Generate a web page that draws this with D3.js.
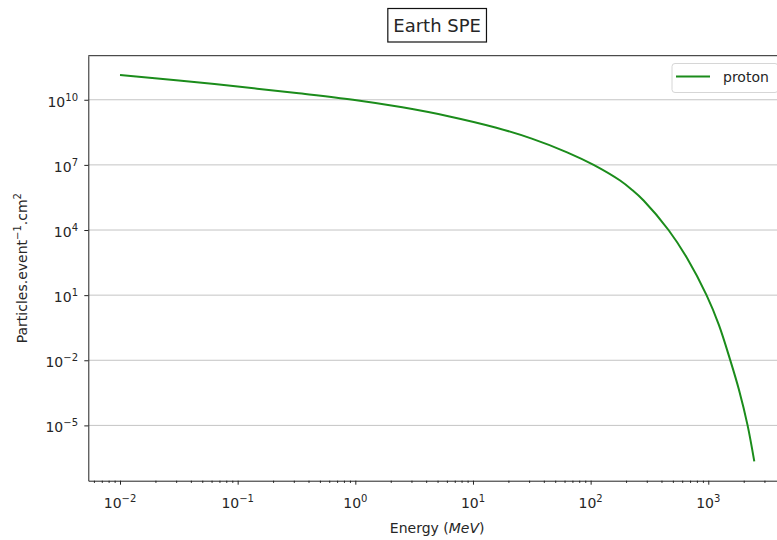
<!DOCTYPE html>
<html>
<head>
<meta charset="utf-8">
<script src="https://cdn.jsdelivr.net/npm/d3@7"></script>
<style>
    body { margin: 0; background: #fff; }
    text { font-family: "DejaVu Sans", sans-serif; fill: #262626; }
</style>
</head>
<body>
<div id="chart"></div>
<script>
// values (energy in MeV, fluence per event)
var energy = [0.01, 0.0316, 0.1, 0.316, 0.955, 2.51, 6.31, 15.8, 31.6, 63.1,
              106, 178, 224, 282, 459, 661, 966, 1230, 1538, 1820, 2158, 2460];
var flux = [1.38e11, 7.76e10, 4.07e10, 2.04e10, 1.0e10, 4.47e9, 1.70e9, 5.13e8, 1.62e8, 3.8e7,
            1.0e7, 1.9e6, 7.2e5, 2.3e5, 1.0e4, 5.0e2, 10, 0.43, 1.0e-2, 4.5e-4, 1.0e-5, 2.2e-7];
var seriesName = "proton";
var titleText = "Earth SPE";
var xTickExps = [-2, -1, 0, 1, 2, 3];
var yTickExps = [-5, -2, 1, 4, 7, 10];

var width = 777, height = 540;
var plot = { left: 88.3, right: 786, top: 55.7, bottom: 480.7 };
var lineColor = "#1b8c1b";

var svg = d3.select("#chart").append("svg")
    .attr("width", width)
    .attr("height", height);

// matplotlib style 5% margins, done in log space
function logDomain(values) {
    var lo = Math.log10(d3.min(values)), hi = Math.log10(d3.max(values)),
        pad = (hi - lo) * 0.05;
    return [Math.pow(10, lo - pad), Math.pow(10, hi + pad)];
}

var x = d3.scaleLog().domain(logDomain(energy)).range([plot.left, plot.right]);
var y = d3.scaleLog().domain(logDomain(flux)).range([plot.bottom, plot.top]);

var data = energy.map(function (e, i) { return { e: e, f: flux[i] }; });

// writes "10" with a raised exponent into a text element
function powerLabel(sel, exp) {
    sel.append("tspan").text("10");
    sel.append("tspan")
        .attr("dy", -6)
        .attr("font-size", "10px")
        .text(exp < 0 ? "\u2212" + (-exp) : String(exp));
}

// horizontal grid at the major y ticks
svg.append("g").selectAll("line")
    .data(yTickExps)
    .enter().append("line")
    .attr("x1", plot.left).attr("x2", plot.right)
    .attr("y1", function (d) { return y(Math.pow(10, d)); })
    .attr("y2", function (d) { return y(Math.pow(10, d)); })
    .attr("stroke", "#c4c4c4")
    .attr("stroke-width", 1);

// x axis: major and minor ticks
var xMinor = [];
d3.range(-3, 4).forEach(function (p) {
    d3.range(2, 10).forEach(function (k) {
        var v = k * Math.pow(10, p);
        if (v >= x.domain()[0] && v <= x.domain()[1]) xMinor.push(v);
    });
});

svg.append("g")
    .attr("transform", "translate(0," + plot.bottom + ")")
    .call(d3.axisBottom(x)
        .tickValues(xTickExps.map(function (d) { return Math.pow(10, d); }))
        .tickSize(4).tickSizeOuter(0).tickFormat(""));
svg.append("g")
    .attr("transform", "translate(0," + plot.bottom + ")")
    .call(d3.axisBottom(x).tickValues(xMinor).tickSize(2.2).tickSizeOuter(0).tickFormat(""))
    .select(".domain").remove();

svg.append("g").selectAll("text")
    .data(xTickExps)
    .enter().append("text")
    .attr("x", function (d) { return x(Math.pow(10, d)); })
    .attr("y", 508)
    .attr("text-anchor", "middle")
    .attr("font-size", "14px")
    .each(function (d) { powerLabel(d3.select(this), d); });

// y axis
svg.append("g")
    .attr("transform", "translate(" + plot.left + ",0)")
    .call(d3.axisLeft(y)
        .tickValues(yTickExps.map(function (d) { return Math.pow(10, d); }))
        .tickSize(4).tickSizeOuter(0).tickFormat(""));

svg.append("g").selectAll("text")
    .data(yTickExps)
    .enter().append("text")
    .attr("x", 78)
    .attr("y", function (d) { return y(Math.pow(10, d)) + 7; })
    .attr("text-anchor", "end")
    .attr("font-size", "14px")
    .each(function (d) { powerLabel(d3.select(this), d); });

svg.selectAll(".domain, .tick line").attr("stroke", "#222").attr("stroke-width", 1);

// top spine
svg.append("line")
    .attr("x1", plot.left).attr("x2", plot.right)
    .attr("y1", plot.top).attr("y2", plot.top)
    .attr("stroke", "#222").attr("stroke-width", 1);

// the curve
var line = d3.line()
    .x(function (d) { return x(d.e); })
    .y(function (d) { return y(d.f); })
    .curve(d3.curveCatmullRom.alpha(0.5));

svg.append("path")
    .datum(data)
    .attr("d", line)
    .attr("fill", "none")
    .attr("stroke", lineColor)
    .attr("stroke-width", 2);

// axis labels
var xLabel = svg.append("text")
    .attr("x", (plot.left + plot.right) / 2)
    .attr("y", 533)
    .attr("text-anchor", "middle")
    .attr("font-size", "14px");
xLabel.append("tspan").text("Energy (");
xLabel.append("tspan").attr("font-style", "italic").text("MeV");
xLabel.append("tspan").text(")");

var yLabel = svg.append("text")
    .attr("transform", "rotate(-90)")
    .attr("x", -(plot.top + plot.bottom) / 2)
    .attr("y", 26.5)
    .attr("text-anchor", "middle")
    .attr("font-size", "14px");
yLabel.append("tspan").text("Particles.event");
yLabel.append("tspan").attr("dy", -6).attr("font-size", "10px").text("\u22121");
yLabel.append("tspan").attr("dy", 6).text(".cm");
yLabel.append("tspan").attr("dy", -6).attr("font-size", "10px").text("2");

// title in a box
var titleBox = svg.append("rect");
var title = svg.append("text")
    .attr("x", (plot.left + plot.right) / 2)
    .attr("y", 32)
    .attr("text-anchor", "middle")
    .attr("font-size", "18px")
    .text(titleText);
var tb = title.node().getBBox();
titleBox
    .attr("x", tb.x - 5.5).attr("y", 8.5)
    .attr("width", tb.width + 11).attr("height", 33.5)
    .attr("fill", "#fff")
    .attr("stroke", "#111").attr("stroke-width", 1.2);

// legend
var legend = svg.append("g").attr("transform", "translate(672,63.5)");
legend.append("rect")
    .attr("width", 106).attr("height", 29)
    .attr("rx", 3)
    .attr("fill", "#fff").attr("fill-opacity", 0.8)
    .attr("stroke", "#d6d6d6");
legend.append("line")
    .attr("x1", 4).attr("x2", 38)
    .attr("y1", 13).attr("y2", 13)
    .attr("stroke", lineColor).attr("stroke-width", 2);
legend.append("text")
    .attr("x", 51).attr("y", 18.5)
    .attr("font-size", "14px")
    .text(seriesName);
</script>
</body>
</html>
